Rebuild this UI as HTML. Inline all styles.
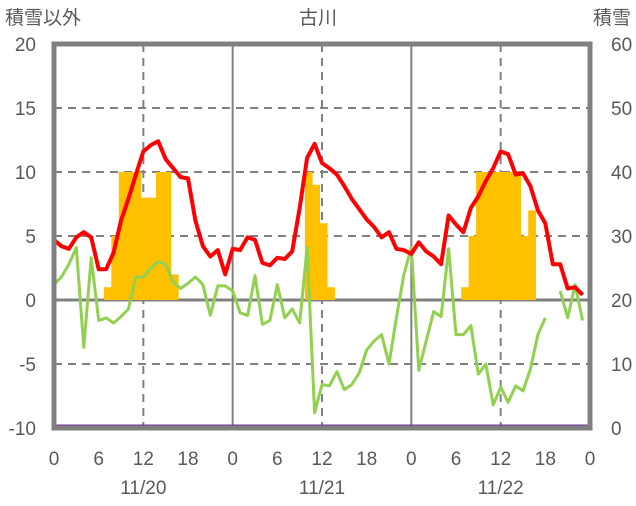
<!DOCTYPE html>
<html><head><meta charset="utf-8"><style>
body{margin:0;background:#fff;}
svg text{font-family:"Liberation Sans","Noto Sans CJK JP",sans-serif;fill:#595959;}
</style></head><body>
<svg id="chart" width="636" height="501" viewBox="0 0 636 501" xmlns="http://www.w3.org/2000/svg">
<g id="grid"></g>
<g id="bars"></g>
<g id="lines"></g>
<g id="frame"></g>
<g id="labels"></g>
<text x="5" y="24" font-size="19">積雪以外</text>
<text x="318" y="24" font-size="19" text-anchor="middle">古川</text>
<text x="631" y="24" font-size="19" text-anchor="end">積雪</text>
</svg>
<script>
const leftTicks=[-10,-5,0,5,10,15,20];
const rightTicks=[0,10,20,30,40,50,60];
const hourTicks=[0,6,12,18,24,30,36,42,48,54,60,66,72];
const hourTickLabels=["0","6","12","18","0","6","12","18","0","6","12","18","0"];
const dates=["11/20","11/21","11/22"];
const snowHours=[7,8,9,10,11,12,13,14,15,16,34,35,36,37,55,56,57,58,59,60,61,62,63,64];
const snowDepth=[22,30,40,40,40,36,36,40,40,24,40,38,32,22,22,30,40,40,40,40,40,40,30,34];
const temp=[4.7,4.2,4.0,4.9,5.3,4.9,2.4,2.4,3.7,6.2,7.9,9.8,11.6,12.1,12.4,11.0,10.3,9.6,9.5,6.2,4.2,3.4,3.9,2.0,
4.0,3.9,4.9,4.7,2.9,2.7,3.3,3.2,3.8,7.2,11.1,12.2,10.7,10.3,9.8,8.9,7.9,7.1,6.3,5.7,4.9,5.3,4.0,3.9,
3.6,4.5,3.8,3.4,2.8,6.6,5.9,5.3,7.2,8.1,9.3,10.3,11.6,11.4,9.8,9.9,8.9,7.0,6.0,2.8,2.8,0.9,1.0,0.4];
const green=[1.2,1.8,2.8,4.1,-3.7,3.3,-1.6,-1.4,-1.8,-1.3,-0.7,1.8,1.8,2.5,3.0,2.8,1.4,0.9,1.3,1.8,1.2,-1.2,1.1,1.1,
0.7,-1.0,-1.2,1.9,-1.9,-1.6,1.2,-1.4,-0.7,-1.8,4.1,-8.8,-6.6,-6.7,-5.6,-7.0,-6.6,-5.7,-3.9,-3.2,-2.7,-5.0,-1.4,2.0,
4.1,-5.5,-3.2,-0.9,-1.3,4.0,-2.7,-2.7,-2.0,-5.8,-5.0,-8.2,-6.8,-8.0,-6.7,-7.1,-5.4,-2.7,-1.4,null,0.7,-1.4,1.2,-1.6];
const purple=[-10,-10];

const X0=54,X1=590,YT=44,YB=428;
const x=h=>X0+(X1-X0)*h/72;
const yL=v=>YB-(v+10)*(YB-YT)/30;
const yR=v=>YB-v*(YB-YT)/60;
const NS="http://www.w3.org/2000/svg";
function mk(tag,attrs,parent){const e=document.createElementNS(NS,tag);for(const k in attrs)e.setAttribute(k,attrs[k]);parent.appendChild(e);return e;}
const grid=document.getElementById('grid'),bars=document.getElementById('bars'),lines=document.getElementById('lines'),frame=document.getElementById('frame'),labels=document.getElementById('labels');

leftTicks.forEach(v=>{
  if(v===-10||v===20)return;
  const l=mk('line',{x1:X0,x2:X1,y1:yL(v),y2:yL(v),stroke:'#808080','stroke-width':v===0?3:2,'stroke-dasharray':v===0?'none':'8,6'},grid);
  
  
});
hourTicks.forEach(h=>{
  if(h===0||h===72)return;
  const day=h%24===0;
  if(h%12!==0)return;
  const l=mk('line',{x1:x(h),x2:x(h),y1:YT,y2:YB,stroke:'#808080','stroke-width':2,'stroke-dasharray':day?'none':'8,6'},grid);
  
  
});

snowHours.forEach((h,i)=>{
  const top=yR(snowDepth[i]),base=yR(20);
  const r=mk('rect',{x:x(h-0.3),y:Math.min(top,base),width:x(h+0.7)-x(h-0.3)+0.3,height:Math.abs(base-top),fill:'#ffc000'},bars);
  
  
});

function path(arr,color,name,w){
  let d='',pen=false;
  arr.forEach((v,i)=>{if(v===null){pen=false;return;}d+=(pen?'L':'M')+x(i).toFixed(1)+','+yL(v).toFixed(1)+' ';pen=true;});
  const p=mk('path',{d:d,fill:'none',stroke:color,'stroke-width':w,'stroke-linejoin':'round'},lines);
  
  
}
path(green,'#92d050','green-series-line',3);
path(temp,'#ff0000','temperature-line',4);
const pl=mk('line',{x1:X0,x2:X1,y1:yL(purple[0])-2,y2:yL(purple[1])-2,stroke:'#7030a0','stroke-width':3},lines);



const fr=mk('rect',{x:X0,y:YT,width:X1-X0,height:YB-YT,fill:'none',stroke:'#808080','stroke-width':5},frame);



leftTicks.forEach(v=>{
  const t=mk('text',{x:36,y:yL(v)+7,'font-size':19,'text-anchor':'end'},labels);t.textContent=v;
  
  
});
rightTicks.forEach(v=>{
  const t=mk('text',{x:611,y:yR(v)+7,'font-size':19},labels);t.textContent=v;
  
  
});
hourTicks.forEach((h,i)=>{
  const t=mk('text',{x:x(h),y:465,'font-size':19,'text-anchor':'middle'},labels);t.textContent=hourTickLabels[i];
  
  
});
dates.forEach((d,i)=>{
  const t=mk('text',{x:x(i*24+12),y:494,'font-size':19,'text-anchor':'middle'},labels);t.textContent=d;
  
  
});
</script>
</body></html>
